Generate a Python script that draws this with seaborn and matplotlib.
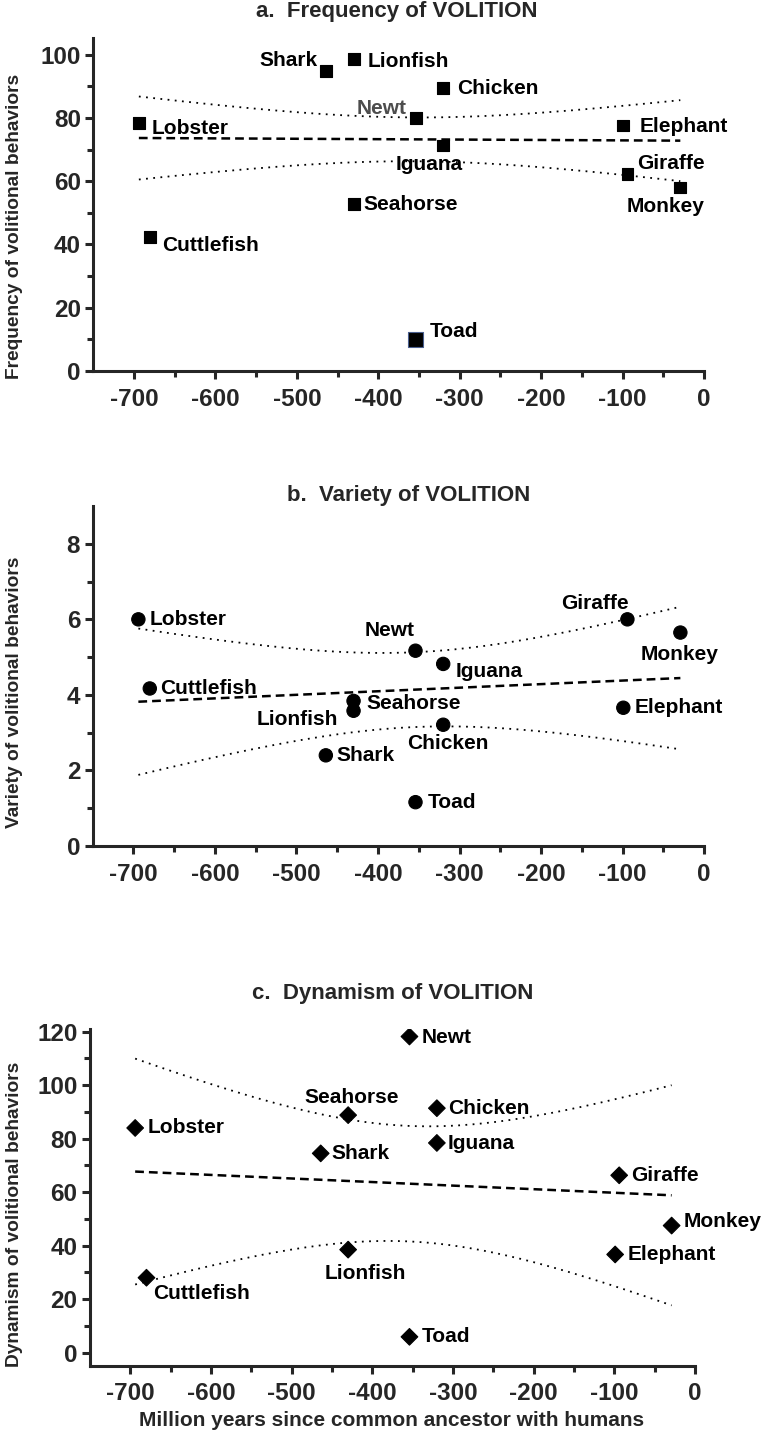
import numpy as np
import pandas as pd
import seaborn as sns
import matplotlib.pyplot as plt

species = ['Lobster', 'Cuttlefish', 'Shark', 'Lionfish', 'Seahorse', 'Newt',
           'Toad', 'Chicken', 'Iguana', 'Elephant', 'Giraffe', 'Monkey']
mya = [-694, -680, -464, -430, -430, -354, -354, -320, -320, -99, -94, -29]
frequency = [78.3, 42.4, 94.8, 98.7, 52.7, 79.9, 10.0, 89.4, 71.3, 77.6, 62.3, 58.0]
variety = [6.0, 4.17, 2.4, 3.58, 3.84, 5.17, 1.16, 3.21, 4.82, 3.66, 6.0, 5.65]
dynamism = [84.0, 28.0, 74.5, 38.5, 88.8, 118.2, 5.9, 91.4, 78.4, 36.7, 66.3, 47.5]

# the frequency fit in the original leaves the toad out
fit_excluded = {'a': ['Toad'], 'b': [], 'c': []}
# band multipliers: 95% t values for b and c; the published band in a is narrower
band_mult = {'a': 1.22, 'b': 2.228, 'c': 2.228}

df = pd.DataFrame({'species': species, 'mya': mya, 'frequency': frequency,
                   'variety': variety, 'dynamism': dynamism})

sns.set_style('ticks')
plt.rcParams['font.family'] = ['Liberation Sans', 'DejaVu Sans']
plt.rcParams['font.weight'] = 'bold'
plt.rcParams['axes.unicode_minus'] = False

# label offsets in pixels (dx, dy, ha)
offs_a = {'Lobster': (13, -5, 'left'), 'Cuttlefish': (12, -9, 'left'), 'Shark': (-9, 11, 'right'),
          'Lionfish': (14, -3, 'left'), 'Seahorse': (10, 0, 'left'), 'Newt': (-9, 10, 'right'),
          'Toad': (14, 8, 'left'), 'Chicken': (14, 0, 'left'), 'Iguana': (-14, -19, 'center'),
          'Elephant': (16, -1, 'left'), 'Giraffe': (10, 10, 'left'), 'Monkey': (-15, -19, 'center')}
offs_b = {'Lobster': (11, 0, 'left'), 'Cuttlefish': (10, 0, 'left'), 'Newt': (-26, 20, 'center'),
          'Iguana': (12, -8, 'left'), 'Seahorse': (13, -3, 'left'), 'Lionfish': (-16, -9, 'right'),
          'Chicken': (5, -19, 'center'), 'Shark': (11, 0, 'left'), 'Toad': (12, 0, 'left'),
          'Giraffe': (-32, 16, 'center'), 'Monkey': (-1, -22, 'center'), 'Elephant': (11, 0, 'left')}
offs_c = {'Newt': (12, -1, 'left'), 'Seahorse': (4, 18, 'center'), 'Chicken': (11, 0, 'left'),
          'Lobster': (12, 0, 'left'), 'Iguana': (11, -1, 'left'), 'Shark': (11, 0, 'left'),
          'Giraffe': (12, 0, 'left'), 'Monkey': (12, 4, 'left'), 'Elephant': (12, 0, 'left'),
          'Lionfish': (17, -24, 'center'), 'Cuttlefish': (7, -16, 'left'), 'Toad': (12, 0, 'left')}

panels = [
    dict(key='a', col='frequency', title='a.  Frequency of VOLITION', ylabel='Frequency of volitional behaviors',
         rect=[0.1224, 0.7424, 0.8014, 0.2313], ylim=(0, 105.3), yticks=np.arange(0, 101, 20),
         marker='s', s=72, offs=offs_a, title_xy=(397, 11), ylab_xy=(15, 226)),
    dict(key='b', col='variety', title='b.  Variety of VOLITION', ylabel='Variety of volitional behaviors',
         rect=[0.1217, 0.4125, 0.8022, 0.2361], ylim=(0, 9), yticks=np.arange(0, 9, 2),
         marker='o', s=92, offs=offs_b, title_xy=(409, 495), ylab_xy=(15, 692)),
    dict(key='c', col='dynamism', title='c.  Dynamism of VOLITION', ylabel='Dynamism of volitional behaviors',
         rect=[0.1181, 0.0516, 0.7940, 0.2338], ylim=(-4.9, 121), yticks=np.arange(0, 121, 20),
         marker='D', s=72, offs=offs_c, title_xy=(393, 993), ylab_xy=(15, 1214)),
]

W, H = 762, 1440
fig = plt.figure(figsize=(W / 100, H / 100), dpi=100)

for p in panels:
    ax = fig.add_axes(p['rect'])
    col = p['col']

    is_toad_a = (p['key'] == 'a') & (df['species'] == 'Toad')
    edge = ['#4a5f8f' if t else 'black' for t in is_toad_a]
    sizes = [p['s'] * 1.5 if t else p['s'] for t in is_toad_a]
    ax.scatter(df['mya'], df[col], marker=p['marker'], s=sizes, color='black',
               edgecolors=edge, linewidths=0.8, zorder=3)

    fit = df[~df['species'].isin(fit_excluded[p['key']])]
    sns.regplot(data=fit, x='mya', y=col, scatter=False, ci=None, ax=ax,
                line_kws=dict(color='black', ls=(0, (3.5, 2)), lw=1.8))

    # confidence band of the fitted line, drawn as dotted curves
    x = fit['mya'].to_numpy(float)
    y = fit[col].to_numpy(float)
    n = len(x)
    slope, icpt = np.polyfit(x, y, 1)
    s_res = np.sqrt(np.sum((y - (icpt + slope * x)) ** 2) / (n - 2))
    xs = np.linspace(x.min(), x.max(), 200)
    se = s_res * np.sqrt(1 / n + (xs - x.mean()) ** 2 / np.sum((x - x.mean()) ** 2))
    yhat = icpt + slope * xs
    for sign in (-1, 1):
        ax.plot(xs, yhat + sign * band_mult[p['key']] * se, color='black', ls=(0, (1, 3)), lw=1.3)

    for sp, xv, yv in zip(df['species'], df['mya'], df[col]):
        dx, dy, ha = p['offs'][sp]
        colr = '#4d4d4d' if (p['key'] == 'a' and sp == 'Newt') else 'black'
        ax.annotate(sp, (xv, yv), xytext=(dx, dy), textcoords='offset pixels',
                    ha=ha, va='center', fontsize=15, fontweight='bold', color=colr)

    ax.set_xlim(-750, 0)
    ax.set_ylim(*p['ylim'])
    ax.set_xticks(np.arange(-700, 1, 100))
    ax.set_xticks(np.arange(-650, 0, 100), minor=True)
    ax.set_yticks(p['yticks'])
    ax.set_yticks(p['yticks'][:-1] + (p['yticks'][1] - p['yticks'][0]) / 2, minor=True)
    ax.set_xlabel('')
    ax.set_ylabel('')
    sns.despine(ax=ax)
    for side in ('left', 'bottom'):
        ax.spines[side].set_linewidth(2.2)
    ax.tick_params(which='major', length=6, width=2.2, labelsize=17.5, pad=3)
    ax.tick_params(axis='x', which='major', pad=6)
    ax.tick_params(which='minor', length=4, width=2.2)
    for lab in ax.get_xticklabels() + ax.get_yticklabels():
        lab.set_fontweight('bold')

    fig.text(p['title_xy'][0] / W, 1 - p['title_xy'][1] / H, p['title'], ha='center', va='center',
             fontsize=16, fontweight='bold')
    fig.text(p['ylab_xy'][0] / W, 1 - p['ylab_xy'][1] / H, p['ylabel'], ha='center', va='center',
             rotation=90, fontsize=13.8, fontweight='bold')

fig.text(392 / W, 1 - 1420 / H, 'Million years since common ancestor with humans',
         ha='center', va='center', fontsize=15, fontweight='bold')

fig.savefig('out.png', dpi=100)
